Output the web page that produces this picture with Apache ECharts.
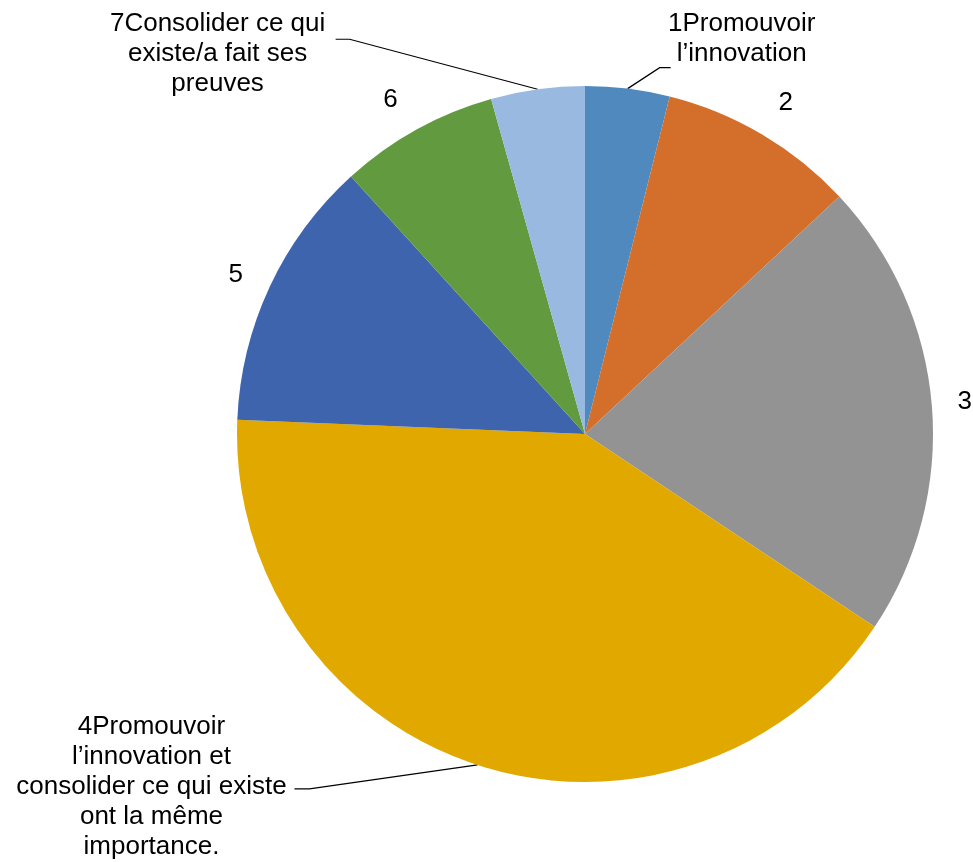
<!DOCTYPE html>
<html>
<head>
<meta charset="utf-8">
<script src="https://cdn.jsdelivr.net/npm/echarts@6/dist/echarts.min.js"></script>
<style>
html,body{margin:0;padding:0;background:#ffffff;}
#chart{width:973px;height:862px;}
</style>
</head>
<body>
<div id="chart"></div>
<script>
// ---- data ----
const categories = [
  '1Promouvoir l’innovation',
  '2',
  '3',
  '4Promouvoir l’innovation et consolider ce qui existe ont la même importance.',
  '5',
  '6',
  '7Consolider ce qui existe/a fait ses preuves'
];
const labelTexts = [
  '1Promouvoir\nl’innovation',
  '2',
  '3',
  '4Promouvoir\nl’innovation et\nconsolider ce qui existe\nont la même\nimportance.',
  '5',
  '6',
  '7Consolider ce qui\nexiste/a fait ses\npreuves'
];
const values = [9, 21, 49, 95, 29, 17, 10];

// ---- styles / layout ----
const colors = ['#4F89BD', '#D46F2B', '#939393', '#E1A900', '#3D64AD', '#629A40', '#99B9E0'];
const CX = 585, CY = 434, R = 348;
// label centre offsets relative to the slice's outer mid point
const labelOffsets = [[114, -50], [24, -31], [33, -4], [-326, 22], [-34, -12], [-26, -30], [-320, -35]];
// leader line bends relative to the slice's outer mid point
const leaderBends = {
  0: [[32, -21], [43, -21]],
  3: [[-168, 24], [-183, 24]],
  6: [[-188, -50], [-202, -50]]
};

const total = values.reduce((a, b) => a + b, 0);
function anchorOf(i) {
  let before = 0;
  for (let k = 0; k < i; k++) before += values[k];
  const mid = (before + values[i] / 2) / total * Math.PI * 2;
  return [CX + R * Math.sin(mid), CY - R * Math.cos(mid)];
}

const chart = echarts.init(document.getElementById('chart'), null, {renderer: 'canvas'});
chart.setOption({
  animation: false,
  backgroundColor: '#ffffff',
  series: [{
    type: 'pie',
    center: [CX, CY],
    radius: R,
    startAngle: 90,
    clockwise: true,
    avoidLabelOverlap: false,
    emphasis: {disabled: true},
    itemStyle: {borderWidth: 0},
    label: {
      show: true,
      position: 'outside',
      formatter: p => labelTexts[p.dataIndex],
      fontSize: 26,
      lineHeight: 30,
      color: '#000000',
      fontFamily: '"Liberation Sans", Arial, sans-serif',
      align: 'center'
    },
    labelLine: {
      show: true,
      smooth: false,
      lineStyle: {color: '#000000', width: 1.2}
    },
    labelLayout: function (params) {
      const i = params.dataIndex;
      const a = anchorOf(i);
      const off = labelOffsets[i];
      const res = {
        x: a[0] + off[0],
        y: a[1] + off[1],
        align: 'center',
        verticalAlign: 'middle'
      };
      if (leaderBends[i]) {
        res.labelLinePoints = [a].concat(leaderBends[i].map(b => [a[0] + b[0], a[1] + b[1]]));
      }
      return res;
    },
    data: values.map((v, i) => ({
      value: v,
      name: categories[i],
      itemStyle: {color: colors[i]},
      labelLine: {show: !!leaderBends[i]}
    }))
  }]
});
</script>
</body>
</html>
